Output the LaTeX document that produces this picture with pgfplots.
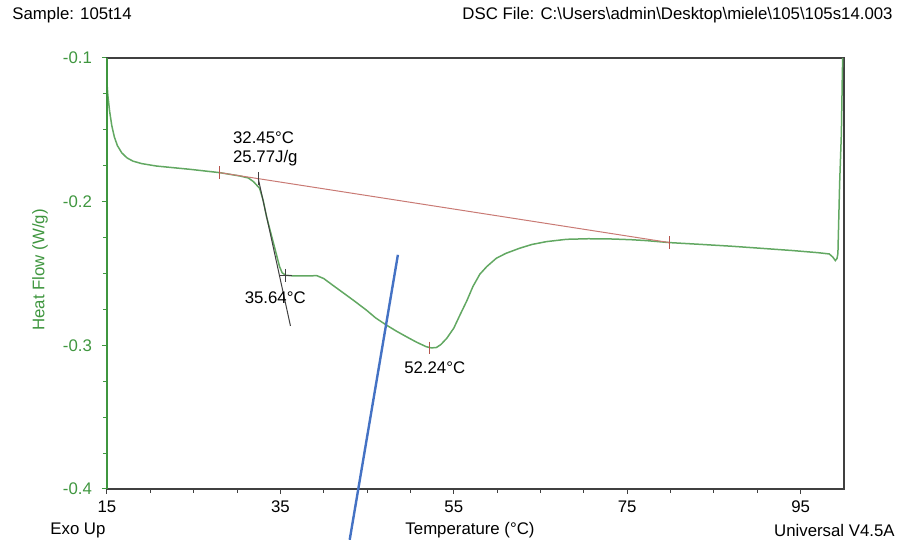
\documentclass[border=0pt]{standalone}
\usepackage{fontspec}
\setmainfont{Liberation Sans}
\usepackage{pgfplots}
\pgfplotsset{compat=1.18}
\definecolor{dscgreen}{HTML}{62A862}
\definecolor{labgreen}{HTML}{3F963F}
\definecolor{basered}{HTML}{C97A74}
\definecolor{tickred}{HTML}{B5554E}
\definecolor{dscdark}{HTML}{404040}
\definecolor{penblue}{HTML}{4472C4}

\begin{document}
\begin{tikzpicture}[font=\fontsize{8.4}{10}\selectfont]
\useasboundingbox (-53.5pt,-25.5pt) rectangle (396.5pt,244.5pt);
\begin{axis}[
  at={(0,0)}, anchor=south west,
  scale only axis, width=368.5pt, height=215.5pt,
  xmin=15, xmax=100, ymin=-0.4, ymax=-0.1,
  clip=false,
  axis line style={dscdark, line width=0.6pt},
  tick align=outside,
  xtick pos=bottom, ytick pos=left,
  xtick={15,35,55,75,95}, xticklabels={15,35,55,75,95},
  minor x tick num=3,
  ytick={-0.4,-0.3,-0.2,-0.1}, yticklabels={-0.4,-0.3,-0.2,-0.1},
  minor y tick num=3,
  major tick length=2.5pt, minor tick length=2pt,
  xtick style={dscdark, line width=0.5pt},
  ytick style={labgreen, line width=0.5pt},
  x tick label style={font=\fontsize{8.4}{10}\selectfont, text=black},
  y tick label style={font=\fontsize{8.4}{10}\selectfont, text=labgreen, xshift=-1.5pt},
]
% measured heat flow
\addplot[dscgreen, line width=0.75pt] coordinates {
  (15.0,-0.118) (15.1,-0.126) (15.3,-0.137) (15.55,-0.147) (15.85,-0.155)
  (16.2,-0.161) (16.7,-0.166) (17.3,-0.1695) (18.0,-0.1718) (19.0,-0.1735)
  (20.7,-0.1752) (24.6,-0.1775) (28.0,-0.1798)
  (30.3,-0.1821) (31.3,-0.1835) (31.9,-0.1861) (32.6,-0.1907) (33.0,-0.1988)
  (33.4,-0.2104) (33.9,-0.222) (34.4,-0.2335) (34.9,-0.2452) (35.2,-0.2495)
  (35.6,-0.2512) (36.5,-0.2517) (38.0,-0.2517) (39.2,-0.2515) (40.0,-0.2535)
  (41.0,-0.2580) (42.3,-0.2637) (43.5,-0.2690) (44.9,-0.2754) (46.0,-0.2810)
  (47.2,-0.2858) (48.4,-0.2902) (49.5,-0.2939) (50.7,-0.2978) (51.8,-0.3009)
  (52.4,-0.3018) (53.0,-0.3015) (53.5,-0.2995) (54.2,-0.2950) (55.0,-0.2880)
  (55.7,-0.2790) (56.5,-0.2690) (57.2,-0.2591) (58.0,-0.2505) (58.8,-0.2452)
  (59.9,-0.2394) (61.0,-0.2360) (62.6,-0.2324) (64.0,-0.2298) (65.7,-0.2278)
  (68.0,-0.2262) (70.5,-0.2258) (73.4,-0.2260) (75.5,-0.2265) (77.2,-0.2271)
  (79.9,-0.2285) (83.4,-0.2297) (87.0,-0.2310) (90.3,-0.2324) (94.0,-0.2340)
  (97.0,-0.2355) (98.3,-0.2364) (98.7,-0.2385) (99.0,-0.2410) (99.2,-0.2395)
  (99.3,-0.236) (99.5,-0.1872) (99.7,-0.1524) (99.8,-0.1153) (99.85,-0.1)};
% integration baseline
\addplot[basered, line width=0.5pt] coordinates {(28.0,-0.1798) (79.9,-0.2285)};
\addplot[tickred, only marks, mark=|, mark size=3.2pt, mark options={line width=0.5pt}]
  coordinates {(28.0,-0.1798) (79.9,-0.2285) (52.24,-0.3018)};
% onset tangent
\addplot[dscdark, line width=0.5pt] coordinates {(32.45,-0.184) (36.16,-0.2865)};
\addplot[dscdark, only marks, mark=|, mark size=3.2pt, mark options={line width=0.5pt}]
  coordinates {(32.45,-0.184)};
\addplot[dscdark, only marks, mark=+, mark size=3.2pt, mark options={line width=0.5pt}]
  coordinates {(35.64,-0.2512)};
% hand-drawn pen line
\addplot[penblue, line width=1.2pt] coordinates {(48.55,-0.2370) (42.99,-0.4354)};
% left axis line in green
\draw[labgreen, line width=0.6pt] (rel axis cs:0,0) -- (rel axis cs:0,1);
% annotations
\node[anchor=west, inner sep=0pt] at (axis cs:29.5,-0.1557) {32.45°C};
\node[anchor=west, inner sep=0pt] at (axis cs:29.5,-0.1696) {25.77J/g};
\node[anchor=center, inner sep=0pt] at (axis cs:34.4,-0.2670) {35.64°C};
\node[anchor=center, inner sep=0pt] at (axis cs:52.8,-0.3155) {52.24°C};
\end{axis}
\node[rotate=90, anchor=center, inner sep=0pt, text=labgreen] at (-33.5pt,109.5pt) {Heat Flow (W/g)};
\node[anchor=west, inner sep=0pt] at (-47.5pt,237pt) {Sample: 105t14};
\node[anchor=east, inner sep=0pt] at (393pt,237pt)
  {DSC File: C:\textbackslash Users\textbackslash admin\textbackslash Desktop\textbackslash miele\textbackslash 105\textbackslash 105s14.003};
\node[anchor=west, inner sep=0pt] at (-28.5pt,-20.5pt) {Exo Up};
\node[anchor=center, inner sep=0pt] at (181.5pt,-20.5pt) {Temperature (°C)};
\node[anchor=east, inner sep=0pt] at (394pt,-20.5pt) {Universal V4.5A};
\end{tikzpicture}
\end{document}
